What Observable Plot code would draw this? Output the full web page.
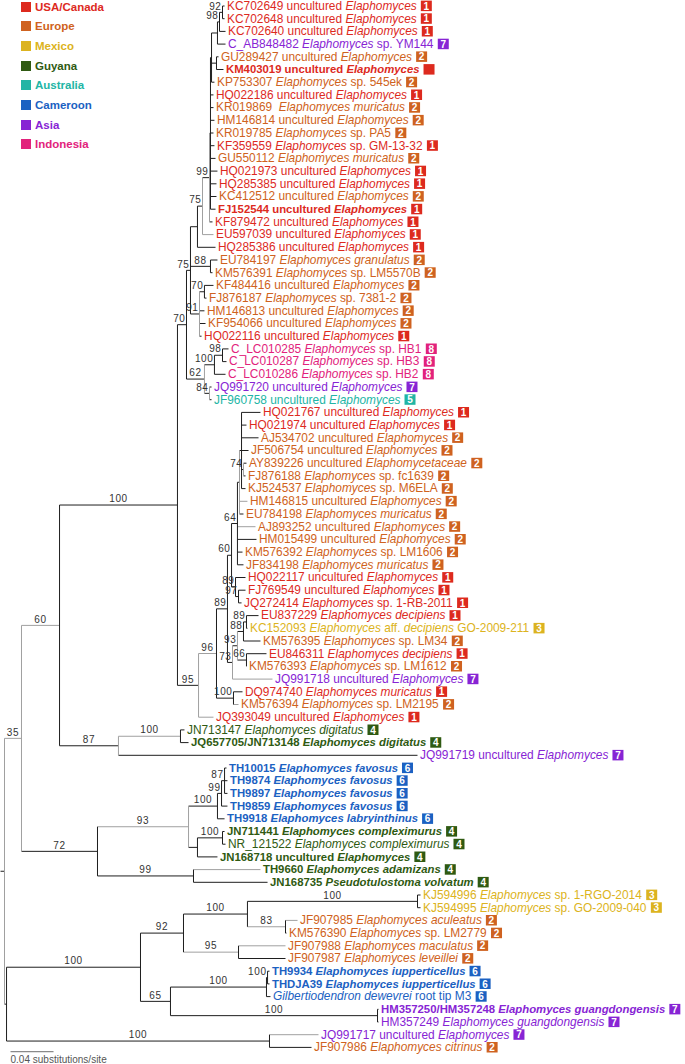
<!DOCTYPE html>
<html><head><meta charset="utf-8">
<script src="https://cdn.jsdelivr.net/npm/d3@7"></script>
<script src="https://cdn.jsdelivr.net/npm/@observablehq/plot@0.6"></script>
<style>
body{margin:0;background:#fff;font-family:"Liberation Sans",Arial,Helvetica,sans-serif}
#wrap{position:relative;width:685px;height:1064px;overflow:hidden}
#wrap svg{position:absolute;left:0;top:0}
#legend{position:absolute;left:0;top:0;z-index:2}
.lg{position:absolute;left:21px;height:12px;white-space:nowrap;font-weight:bold;font-size:11.5px;line-height:12px}
.lg span.sw{display:inline-block;width:10px;height:10px;vertical-align:-1px;margin-right:4px}
</style></head>
<body><div id="wrap"><div id="legend"></div></div>
<script>
// ---------- DATA ----------
const regionNames = ["USA/Canada","Europe","Mexico","Guyana","Australia","Cameroon","Asia","Indonesia"];
const regionColors = ["#dd2a1e","#cf6220","#dcb320","#2f5a12","#22b5a5","#1b61c2","#8724d4","#e2227c"];
const unnumbered = ["KM403019"];
// internal nodes: [id, parent, depth (substitutions/site from root), support, tone (h: gray branch, v: gray vertical)]
const internalNodes = [
 ["origin",null,-0.0037,"",""],
 ["root","origin",0,"","v"],
 ["N35","root",0.0158,"35","hv"],
 ["R60","N35",0.0512,"60","h"],
 ["N100","R60",0.1609,"100",""],
 ["N70","N100",0.1693,"70",""],
 ["W","N70",0.1730,"75",""],
 ["V","W",0.1795,"",""],
 ["N75a","V",0.1842,"75","v"],
 ["N99","N75a",0.1907,"99","v"],
 ["Nsub","N99",0.1916,"",""],
 ["Nt","Nsub",0.1926,"",""],
 ["Na3","Nt",0.1981,"",""],
 ["N98","Na3",0.2000,"98",""],
 ["N92","N98",0.2028,"92",""],
 ["Ng","Nt",0.1972,"",""],
 ["N88","W",0.1916,"88",""],
 ["N91","W",0.1814,"91","v"],
 ["N70b","N91",0.1860,"70",""],
 ["N62","N70",0.1860,"62","v"],
 ["C100","N62",0.1953,"100",""],
 ["N98c","C100",0.2028,"98",""],
 ["N84","N62",0.1907,"84","v"],
 ["N95","N100",0.1805,"95","v"],
 ["N96","N95",0.1972,"96","h"],
 ["N100c","N96",0.2130,"100",""],
 ["N89a","N96",0.2074,"89",""],
 ["N60","N89a",0.2112,"60",""],
 ["N64","N60",0.2167,"64",""],
 ["Nmid","N64",0.2186,"","v"],
 ["Ntop","Nmid",0.2205,"",""],
 ["N74","Ntop",0.2223,"74","v"],
 ["N89c","N60",0.2149,"89",""],
 ["N97","N89c",0.2177,"97",""],
 ["N73","N89a",0.2121,"73","v"],
 ["N93","N73",0.2167,"93","v"],
 ["N88b","N93",0.2223,"88",""],
 ["N89b","N88b",0.2251,"89",""],
 ["N66","N93",0.2251,"66",""],
 ["N87","R60",0.1060,"87","v"],
 ["Ndig","N87",0.1637,"100","h"],
 ["N72","N35",0.0865,"72",""],
 ["N93b","N72",0.1712,"93","hv"],
 ["N100fav","N93b",0.1981,"100",""],
 ["N99fav","N100fav",0.2019,"99",""],
 ["N87fav","N99fav",0.2047,"87",""],
 ["Ncomp","N93b",0.1795,"",""],
 ["N100comp","Ncomp",0.2028,"100",""],
 ["N99b","N72",0.1758,"99",""],
 ["L6","root",0.0019,"",""],
 ["N100lo","L6",0.1265,"100",""],
 ["N92lo","N100lo",0.1665,"92",""],
 ["N100k","N92lo",0.2260,"100",""],
 ["N100mx","N100k",0.3842,"100",""],
 ["N83","N100k",0.2614,"83","h"],
 ["N95k","N92lo",0.2177,"95","h"],
 ["N65","N100lo",0.1544,"65",""],
 ["N100iu","N65",0.2437,"100",""],
 ["N100iu2","N100iu",0.2447,"100",""],
 ["N100gu","N65",0.3470,"100",""],
 ["N100j","L6",0.2465,"100",""]
];
// leaves, top to bottom: [label (*italic*), region (1-8), bold, parent, depth, tone]
const leaves = [
 ["KC702649 uncultured *Elaphomyces*",1,0,"N92",0.2047,""],
 ["KC702648 uncultured *Elaphomyces*",1,0,"N92",0.2047,""],
 ["KC702640 uncultured *Elaphomyces*",1,0,"N98",0.2056,""],
 ["C_AB848482 *Elaphomyces* sp. YM144",7,0,"Na3",0.2056,""],
 ["GU289427 uncultured *Elaphomyces*",2,0,"Ng",0.1991,""],
 ["KM403019 uncultured *Elaphomyces*",1,1,"Ng",0.2037,""],
 ["KP753307 *Elaphomyces* sp. 545ek",2,0,"Nt",0.1953,""],
 ["HQ022186 uncultured *Elaphomyces*",1,0,"Nsub",0.1944,""],
 ["KR019869  *Elaphomyces muricatus*",2,0,"Nsub",0.1944,""],
 ["HM146814 uncultured *Elaphomyces*",2,0,"Nsub",0.1953,""],
 ["KR019785 *Elaphomyces* sp. PA5",2,0,"Nsub",0.1944,""],
 ["KF359559 *Elaphomyces* sp. GM-13-32",1,0,"Nsub",0.1953,""],
 ["GU550112 *Elaphomyces muricatus*",2,0,"Nsub",0.1963,""],
 ["HQ021973 uncultured *Elaphomyces*",1,0,"Nsub",0.1981,""],
 ["HQ285385 uncultured *Elaphomyces*",1,0,"Nsub",0.1972,""],
 ["KC412512 uncultured *Elaphomyces*",2,0,"Nsub",0.1972,""],
 ["FJ152544 uncultured *Elaphomyces*",1,1,"Nsub",0.1963,""],
 ["KF879472 uncultured *Elaphomyces*",1,0,"N99",0.1935,""],
 ["EU597039 uncultured *Elaphomyces*",1,0,"N75a",0.1944,"h"],
 ["HQ285386 uncultured *Elaphomyces*",1,0,"V",0.1963,""],
 ["EU784197 *Elaphomyces granulatus*",2,0,"N88",0.1981,""],
 ["KM576391 *Elaphomyces* sp. LM5570B",2,0,"N88",0.1935,""],
 ["KF484416 uncultured *Elaphomyces*",2,0,"N70b",0.1944,""],
 ["FJ876187 *Elaphomyces* sp. 7381-2",2,0,"N70b",0.1879,""],
 ["HM146813 uncultured *Elaphomyces*",2,0,"N91",0.1860,""],
 ["KF954066 uncultured *Elaphomyces*",2,0,"N91",0.1870,""],
 ["HQ022116 uncultured *Elaphomyces*",1,0,"N91",0.1833,""],
 ["C_LC010285 *Elaphomyces* sp. HB1",8,0,"N98c",0.2084,""],
 ["C_LC010287 *Elaphomyces* sp. HB3",8,0,"N98c",0.2065,""],
 ["C_LC010286 *Elaphomyces* sp. HB2",8,0,"C100",0.2056,""],
 ["JQ991720 uncultured *Elaphomyces*",7,0,"N84",0.1926,""],
 ["JF960758 uncultured *Elaphomyces*",5,0,"N84",0.1926,""],
 ["HQ021767 uncultured *Elaphomyces*",1,0,"Ntop",0.2381,""],
 ["HQ021974 uncultured *Elaphomyces*",1,0,"Ntop",0.2251,""],
 ["AJ534702 uncultured *Elaphomyces*",2,0,"Ntop",0.2363,""],
 ["JF506754 uncultured *Elaphomyces*",2,0,"Ntop",0.2270,""],
 ["AY839226 uncultured *Elaphomycetaceae*",2,0,"N74",0.2251,""],
 ["FJ876188 *Elaphomyces* sp. fc1639",2,0,"N74",0.2242,""],
 ["KJ524537 *Elaphomyces* sp. M6ELA",2,0,"Ntop",0.2242,""],
 ["HM146815 uncultured *Elaphomyces*",2,0,"Nmid",0.2260,"h"],
 ["EU784198 *Elaphomyces muricatus*",2,0,"Nmid",0.2223,""],
 ["AJ893252 uncultured *Elaphomyces*",2,0,"N64",0.2335,"h"],
 ["HM015499 uncultured *Elaphomyces*",2,0,"N64",0.2344,""],
 ["KM576392 *Elaphomyces* sp. LM1606",2,0,"N64",0.2214,""],
 ["JF834198 *Elaphomyces muricatus*",2,0,"N64",0.2223,""],
 ["HQ022117 uncultured *Elaphomyces*",1,0,"N89c",0.2242,""],
 ["FJ769549 uncultured *Elaphomyces*",1,0,"N97",0.2242,""],
 ["JQ272414 *Elaphomyces* sp. 1-RB-2011",1,0,"N97",0.2205,""],
 ["EU837229 *Elaphomyces decipiens*",1,0,"N89b",0.2363,""],
 ["KC152093 *Elaphomyces* aff. *decipiens* GO-2009-211",3,0,"N89b",0.2260,""],
 ["KM576395 *Elaphomyces* sp. LM34",2,0,"N88b",0.2381,""],
 ["EU846311 *Elaphomyces decipiens*",1,0,"N66",0.2437,""],
 ["KM576393 *Elaphomyces* sp. LM1612",2,0,"N66",0.2251,""],
 ["JQ991718 uncultured *Elaphomyces*",7,0,"N73",0.2493,"h"],
 ["DQ974740 *Elaphomyces muricatus*",1,0,"N100c",0.2214,""],
 ["KM576394 *Elaphomyces* sp. LM2195",2,0,"N100c",0.2177,"h"],
 ["JQ393049 uncultured *Elaphomyces*",1,0,"N95",0.1944,"h"],
 ["JN713147 *Elaphomyces digitatus*",4,0,"Ndig",0.1674,""],
 ["JQ657705/JN713148 *Elaphomyces digitatus*",4,1,"Ndig",0.1712,""],
 ["JQ991719 uncultured *Elaphomyces*",7,0,"N87",0.3842,""],
 ["TH10015 *Elaphomyces favosus*",6,1,"N87fav",0.2065,""],
 ["TH9874 *Elaphomyces favosus*",6,1,"N87fav",0.2074,""],
 ["TH9897 *Elaphomyces favosus*",6,1,"N87fav",0.2074,""],
 ["TH9859 *Elaphomyces favosus*",6,1,"N99fav",0.2074,""],
 ["TH9918 *Elaphomyces labryinthinus*",6,1,"N100fav",0.2047,""],
 ["JN711441 *Elaphomyces compleximurus*",4,1,"N100comp",0.2047,""],
 ["NR_121522 *Elaphomyces compleximurus*",4,0,"N100comp",0.2056,""],
 ["JN168718 uncultured *Elaphomyces*",4,1,"Ncomp",0.1981,""],
 ["TH9660 *Elaphomyces adamizans*",4,1,"N99b",0.2381,"h"],
 ["JN168735 *Pseudotulostoma volvatum*",4,1,"N99b",0.2447,""],
 ["KJ594996 *Elaphomyces* sp. 1-RGO-2014",3,0,"N100mx",0.3870,""],
 ["KJ594995 *Elaphomyces* sp. GO-2009-040",3,0,"N100mx",0.3870,""],
 ["JF907985 *Elaphomyces aculeatus*",2,0,"N83",0.2726,"h"],
 ["KM576390 *Elaphomyces* sp. LM2779",2,0,"N83",0.2623,""],
 ["JF907988 *Elaphomyces maculatus*",2,0,"N95k",0.2614,"h"],
 ["JF907987 *Elaphomyces leveillei*",2,0,"N95k",0.2614,""],
 ["TH9934 *Elaphomyces iupperticellus*",6,1,"N100iu2",0.2465,""],
 ["THDJA39 *Elaphomyces iupperticellus*",6,1,"N100iu2",0.2465,""],
 ["*Gilbertiodendron dewevrei* root tip M3",6,0,"N100iu",0.2474,""],
 ["HM357250/HM357248 *Elaphomyces guangdongensis*",7,1,"N100gu",0.3479,""],
 ["HM357249 *Elaphomyces guangdongensis*",7,0,"N100gu",0.3479,""],
 ["JQ991717 uncultured *Elaphomyces*",7,0,"N100j",0.2921,"h"],
 ["JF907986 *Elaphomyces citrinus*",2,0,"N100j",0.2856,""]
];
const scaleBar = {start: 0.0056, length: 0.04, row: 83.34, labelRow: 84.0, label: "0.04 substitutions/site"};

// ---------- LAYOUT ----------
const xDomain = [-0.003721, 0.633488];
const pxPerUnit = 685 / (xDomain[1] - xDomain[0]);
const all = new Map();
internalNodes.forEach(([id, parent, depth, support, tone]) => all.set(id, {id, parent, depth, support, tone, children: []}));
const leafRows = leaves.map(([label, region, bold, parent, depth, tone], i) => {
  const n = {id: "leaf" + i, parent, depth, tone, support: "", y: i + 1, leaf: true, label, region, bold, children: [],
    plain: label.replace(/\*/g, "").replace(/\s+/g, " "), color: regionColors[region - 1]};
  all.set(n.id, n);
  return n;
});
for (const n of all.values()) if (n.parent) all.get(n.parent).children.push(n);
function place(n) {
  if (n.leaf) return n.y;
  const ys = n.children.map(place);
  n.y0 = d3.min(ys); n.y1 = d3.max(ys); n.y = (n.y0 + n.y1) / 2;
  return n.y;
}
place(all.get("origin"));
const BLACK = "#1e1e1e", GRAY = "#a0a0a0";
const hBranches = [], vBranches = [], supports = [];
for (const n of all.values()) {
  if (n.parent) {
    const p = all.get(n.parent);
    hBranches.push({x1: p.depth, x2: n.depth, y: n.y, c: n.tone.includes("h") ? GRAY : BLACK});
    if (n.support) {
      const lenPx = (n.depth - p.depth) * pxPerUnit;
      const w = n.support.length * 5.6 + 2;
      supports.push({t: n.support, y: n.y, mid: (n.depth + p.depth) / 2, x: n.depth, short: lenPx < w});
    }
  }
  if (!n.leaf && n.y1 > n.y0) vBranches.push({x: n.depth, y0: n.y0, y1: n.y1, c: n.tone.includes("v") ? GRAY : BLACK});
}

// ---------- PLOT ----------
const chart = Plot.plot({
  width: 685, height: 1064, margin: 0,
  style: {fontFamily: '"Liberation Sans", Arial, Helvetica, sans-serif', background: "transparent"},
  x: {domain: xDomain, range: [0, 685], axis: null},
  y: {domain: [1, leaves.length], range: [5.5, 1046.9], axis: null},
  color: {type: "identity"},
  marks: [
    Plot.link(hBranches, {x1: "x1", x2: "x2", y1: "y", y2: "y", stroke: "c", strokeWidth: 1}),
    Plot.link(vBranches, {x1: "x", x2: "x", y1: "y0", y2: "y1", stroke: "c", strokeWidth: 1}),
    Plot.text(supports.filter(d => !d.short), {x: "mid", y: "y", text: "t", dy: -6, fontSize: 10, fill: "#333"}),
    Plot.text(supports.filter(d => d.short), {x: "x", y: "y", text: "t", dy: -6, dx: -1, textAnchor: "end", fontSize: 10, fill: "#333"}),
    Plot.text(leafRows, {x: "depth", y: "y", text: "plain", textAnchor: "start", dx: 2.5, fontSize: 11.9, fill: "color"}),
    Plot.link([scaleBar], {x1: "start", x2: d => d.start + d.length, y1: "row", y2: "row", stroke: "#8a8a8a", strokeWidth: 1.2}),
    Plot.text([scaleBar], {x: "start", y: "labelRow", text: "label", textAnchor: "start", fontSize: 10, fill: "#555"})
  ]
});
document.getElementById("wrap").appendChild(chart);

// rich leaf labels + region boxes
const NS = "http://www.w3.org/2000/svg";
const byPlain = new Map(leafRows.map(l => [l.plain, l]));
chart.querySelectorAll("text").forEach(t => {
  const s = t.textContent;
  if (/^\d+$/.test(s)) { t.setAttribute("letter-spacing", "0.6"); return; }
  const lf = byPlain.get(s.replace(/\s+/g, " "));
  if (!lf) return;
  t.textContent = "";
  lf.label.split("*").forEach((seg, k) => {
    if (!seg) return;
    const ts = document.createElementNS(NS, "tspan");
    if (k % 2) ts.setAttribute("font-style", "italic");
    ts.textContent = seg;
    t.appendChild(ts);
  });
  if (lf.bold) { t.setAttribute("font-weight", "bold"); t.setAttribute("font-size", "11.35"); }
  const bb = t.getBBox();
  const tr = t.getAttribute("transform") || "";
  const bx = bb.x + bb.width + 4;
  const g = document.createElementNS(NS, "g");
  g.setAttribute("transform", tr);
  const rect = document.createElementNS(NS, "rect");
  rect.setAttribute("x", bx); rect.setAttribute("y", -5.4);
  rect.setAttribute("width", 11); rect.setAttribute("height", 10.5);
  rect.setAttribute("fill", lf.color);
  g.appendChild(rect);
  const acc = lf.plain.split(" ")[0];
  if (!unnumbered.includes(acc)) {
    const num = document.createElementNS(NS, "text");
    num.setAttribute("x", bx + 5.5); num.setAttribute("y", 3.6);
    num.setAttribute("text-anchor", "middle");
    num.setAttribute("font-weight", "bold");
    num.setAttribute("font-style", "normal");
    num.setAttribute("font-size", "10");
    num.setAttribute("fill", "#fff");
    num.textContent = String(lf.region);
    g.appendChild(num);
  }
  t.parentNode.appendChild(g);
});

// legend
const lg = document.getElementById("legend");
regionNames.forEach((name, i) => {
  const d = document.createElement("div");
  d.className = "lg";
  d.style.top = (0.5 + i * 19.7) + "px";
  d.style.color = regionColors[i];
  d.innerHTML = `<span class="sw" style="background:${regionColors[i]}"></span>${name}`;
  lg.appendChild(d);
});
</script>
</body></html>
